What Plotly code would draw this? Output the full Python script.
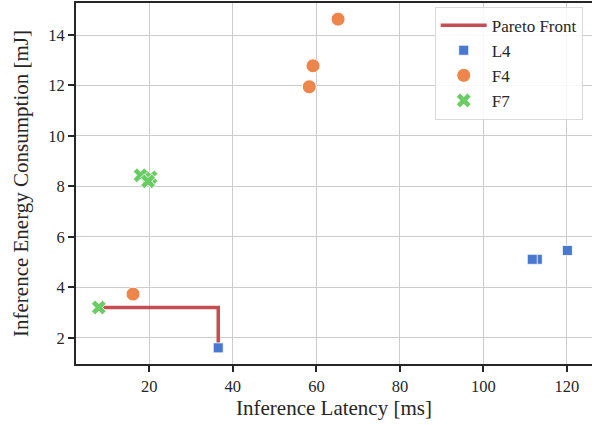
import plotly.graph_objects as go

pareto_x = [7.9, 36.5, 36.5]
pareto_y = [3.2, 3.2, 1.6]

l4_x = [36.5, 112.9, 111.7, 120.1]
l4_y = [1.6, 5.11, 5.11, 5.46]

f4_x = [16.1, 58.3, 59.2, 65.2]
f4_y = [3.73, 11.95, 12.78, 14.63]

f7_x = [7.9, 20.3, 17.9, 19.7]
f7_y = [3.2, 8.36, 8.44, 8.2]

blue = "#4878d0"
orange = "#ee854a"
green = "#6acc64"
red = "#c44e52"

fig = go.Figure()
fig.add_trace(go.Scatter(x=pareto_x, y=pareto_y, mode="lines", name="Pareto Front",
                         line=dict(color=red, width=3.5)))
fig.add_trace(go.Scatter(x=l4_x, y=l4_y, mode="markers", name="L4",
                         marker=dict(symbol="square", size=10, color=blue,
                                     line=dict(color="white", width=0.8))))
fig.add_trace(go.Scatter(x=f4_x, y=f4_y, mode="markers", name="F4",
                         marker=dict(symbol="circle", size=14, color=orange,
                                     line=dict(color="white", width=1))))
fig.add_trace(go.Scatter(x=f7_x, y=f7_y, mode="markers", name="F7",
                         marker=dict(symbol="x", size=13, color=green,
                                     line=dict(color="white", width=0.8))))

axis_common = dict(
    showgrid=True, gridcolor="#cccccc", gridwidth=1.3,
    showline=True, linecolor="#262626", linewidth=2, mirror=True,
    ticks="outside", ticklen=6, tickwidth=2, tickcolor="#262626",
    zeroline=False, automargin=False,
    tickfont=dict(family="Liberation Serif", size=16.5, color="#262626"),
)

fig.update_xaxes(range=[2.44, 126.0], dtick=20, tick0=0,
                 title=dict(text="Inference Latency [ms]", standoff=6,
                            font=dict(family="Liberation Serif", size=21, color="#262626")),
                 **axis_common)
fig.update_yaxes(range=[0.96, 15.27], dtick=2, tick0=0,
                 title=dict(text="Inference Energy Consumption [mJ]", standoff=14,
                            font=dict(family="Liberation Serif", size=21, color="#262626")),
                 **axis_common)

fig.update_layout(
    width=592, height=429,
    margin=dict(l=76, r=0, t=3, b=65, autoexpand=False),
    plot_bgcolor="white", paper_bgcolor="white",
    font=dict(family="Liberation Serif", size=16.5, color="#262626"),
    legend=dict(x=0.982, y=0.99, xanchor="right", yanchor="top",
                bgcolor="rgba(255,255,255,0.85)", bordercolor="#d9d9d9", borderwidth=1,
                font=dict(family="Liberation Serif", size=17, color="#262626"),
                itemwidth=46, tracegroupgap=0),
    showlegend=True,
)

fig.write_html("out.html", config={"displayModeBar": False},
               post_script="document.body.style.margin='0';document.body.style.overflow='hidden';")
